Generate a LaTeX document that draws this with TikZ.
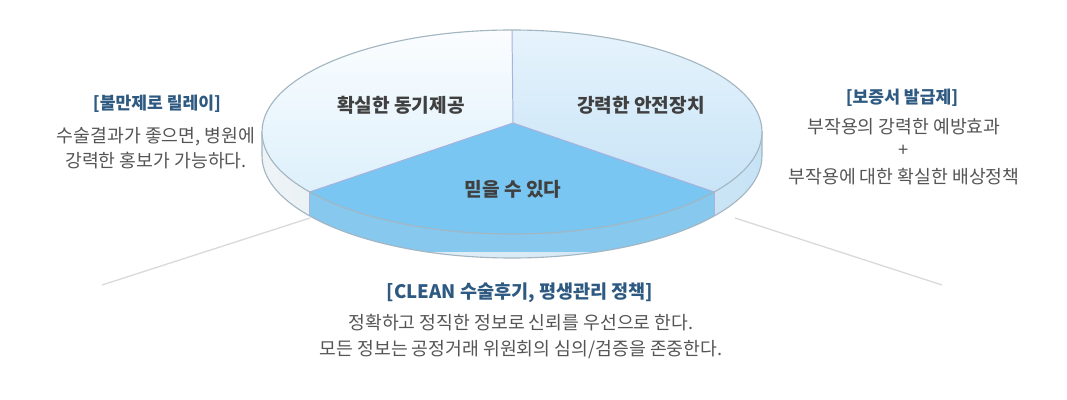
\documentclass[tikz,border=0pt]{standalone}
\usepackage{fontspec}
\setmainfont{Noto Sans CJK KR}
\usetikzlibrary{calc}

\definecolor{rimgray}{HTML}{A3B6C2}
\definecolor{sideL}{HTML}{EEF3F6}
\definecolor{sideR}{HTML}{C6E3F5}
\definecolor{sideF}{HTML}{86C8EE}
\definecolor{topF}{HTML}{78C6F1}
\definecolor{topLa}{HTML}{FBFDFF}
\definecolor{topLb}{HTML}{DDF0FB}
\definecolor{topRa}{HTML}{E6F3FC}
\definecolor{topRb}{HTML}{C8E4F7}
\definecolor{titleblue}{HTML}{2E5A82}
\definecolor{bodygray}{HTML}{555555}

\tikzset{
  titletext/.style={font=\fontsize{12.2}{14}\selectfont\bfseries,text=titleblue,inner sep=0pt},
  bodytext/.style={font=\fontsize{13}{15}\selectfont,text=bodygray,inner sep=0pt},
  slicelabel/.style={font=\fontsize{13.6}{15}\selectfont\bfseries,text=black!75,inner sep=0pt},
  leader/.style={draw=black!15,line width=0.9pt}
}

\begin{document}
\begin{tikzpicture}[x=0.025cm,y=-0.025cm,line join=round]
  \useasboundingbox[fill=white] (0,0) rectangle (1067,400);
  % pie: top ellipse centre, vertex of slices
  \coordinate (C) at (512,132);
  \coordinate (V) at (513,123);
  \coordinate (D) at (512,156);
  \coordinate (P0) at ($(C)+(270:250 and 102)$);
  \coordinate (P1) at ($(C)+(36:250 and 102)$);
  \coordinate (P2) at ($(C)+(144:250 and 102)$);
  % side band
  \shade[left color=sideL,right color=sideR]
    ($(D)+(180:250 and 102)$) arc[start angle=180,end angle=0,x radius=250,y radius=102]
    -- ($(C)+(0:250 and 102)$) arc[start angle=0,end angle=180,x radius=250,y radius=102] -- cycle;
  \begin{scope}
    \clip (P2) rectangle ($(P1)+(0,60)$);
    \fill[sideF] ($(D)+(180:250 and 102)$) arc[start angle=180,end angle=0,x radius=250,y radius=102]
      -- ($(C)+(0:250 and 102)$) arc[start angle=0,end angle=180,x radius=250,y radius=102] -- cycle;
  \end{scope}
  \draw[rimgray,line width=0.8pt] ($(C)+(180:250 and 102)$) -- ($(D)+(180:250 and 102)$)
    arc[start angle=180,end angle=0,x radius=250,y radius=102] -- ($(C)+(0:250 and 102)$);
  % top slices
  \shade[top color=topLa,bottom color=topLb] (V) -- (P0)
    arc[start angle=270,end angle=144,x radius=250,y radius=102] -- cycle;
  \shade[top color=topRa,bottom color=topRb] (V) -- (P0)
    arc[start angle=270,end angle=396,x radius=250,y radius=102] -- cycle;
  \fill[topF] (V) -- (P1)
    arc[start angle=36,end angle=144,x radius=250,y radius=102] -- cycle;
  % edges
  \draw[rimgray!80!blue!70,line width=0.7pt] (P0) -- (V) -- (P1) (V) -- (P2);
  \draw[rimgray!80!blue!70,line width=0.7pt] (P1) -- ++(0,24) (P2) -- ++(0,24);
  \draw[rimgray,line width=0.8pt] (C) ellipse[x radius=250,y radius=102];
  % slice labels
  \node[slicelabel] (s1) at (401,105) {확실한 동기제공};
  \node[slicelabel] (s2) at (641,105) {강력한 안전장치};
  \node[slicelabel] (s3) at (513,189) {믿을 수 있다};
  % leader lines
  \coordinate (L0) at (310,218);
  \coordinate (L1) at (102,285);
  \coordinate (R0) at (735,218);
  \coordinate (R1) at (942,285);
  \draw[leader] (L0) -- (L1);
  \draw[leader] (R0) -- (R1);
  % left text
  \node[titletext] (lt) at (157,104) {[불만제로 릴레이]};
  \node[bodytext] (lb1) at (156,137) {수술결과가 좋으면, 병원에};
  \node[bodytext] (lb2) at (156,161) {강력한 홍보가 가능하다.};
  % right text
  \node[titletext] (rt) at (902,98) {[보증서 발급제]};
  \node[bodytext] (rb1) at (904,127) {부작용의 강력한 예방효과};
  \node[bodytext] (rb2) at (904,151) {+};
  \node[bodytext] (rb3) at (904,177) {부작용에 대한 확실한 배상정책};
  % bottom text
  \node[titletext,font=\fontsize{13.2}{15}\selectfont\bfseries] (bt) at (520,293) {[CLEAN 수술후기, 평생관리 정책]};
  \node[bodytext] (bb1) at (521,323) {정확하고 정직한 정보로 신뢰를 우선으로 한다.};
  \node[bodytext] (bb2) at (521,350) {모든 정보는 공정거래 위원회의 심의/검증을 존중한다.};
\end{tikzpicture}
\end{document}
